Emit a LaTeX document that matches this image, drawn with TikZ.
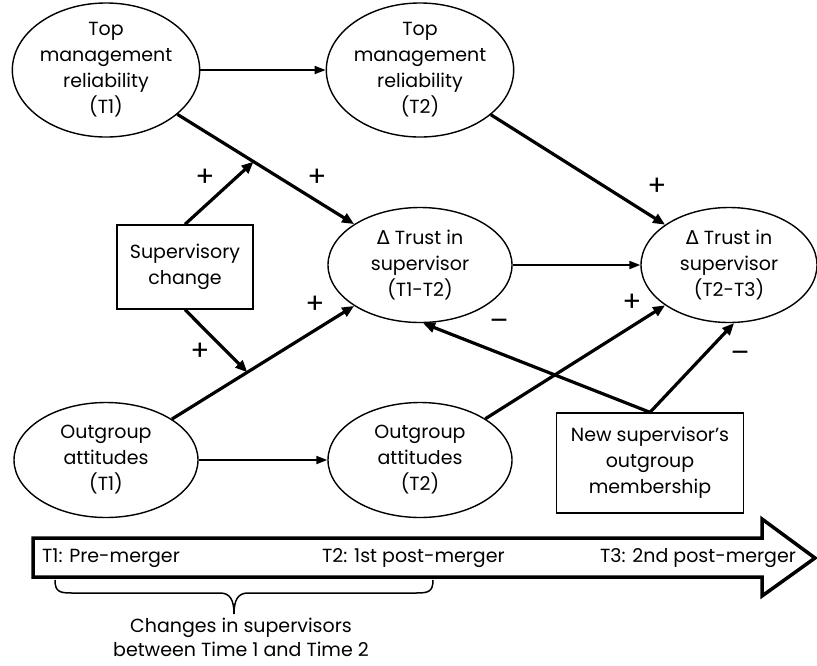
\documentclass[tikz,border=0pt]{standalone}
\usepackage{fontspec}
\setmainfont{Poppins}
\newfontfamily\grkfont{DejaVu Sans}
\usetikzlibrary{arrows.meta,shapes.geometric,calc}
\begin{document}
\begin{tikzpicture}[x=1pt,y=-1pt,
  font=\fontsize{19}{26}\selectfont,
  ell/.style={draw,line width=1.4pt,ellipse,minimum width=184pt,minimum height=115pt,inner sep=0pt,align=center},
  box/.style={draw,line width=1.4pt,rectangle,inner sep=0pt,align=center},
  thinarrow/.style={line width=1.8pt,-{Triangle[length=11pt,width=8pt]}},
  thickarrow/.style={line width=3.2pt,-{Triangle[length=12pt,width=10pt]}},
  sign/.style={font=\fontsize{28}{28}\selectfont,inner sep=0pt},
  bandtext/.style={anchor=west,inner sep=0pt}]
\useasboundingbox[fill=white] (0,0) rectangle (817,665);

\node[ell] (tm1) at (106,70) {Top\\management\\reliability\\(T1)};
\node[ell] (tm2) at (420,70) {Top\\management\\reliability\\(T2)};
\node[ell] (tr12) at (420,265) {{\grkfont Δ} Trust in\\supervisor\\(T1-T2)};
\node[ell,minimum width=176pt] (tr23) at (729,265) {{\grkfont Δ} Trust in\\supervisor\\(T2-T3)};
\node[ell] (og1) at (106,460) {Outgroup\\attitudes\\(T1)};
\node[ell] (og2) at (420,460) {Outgroup\\attitudes\\(T2)};
\node[box,minimum width=136pt,minimum height=84pt] (sc) at (185,267) {Supervisory\\change};
\node[box,minimum width=187pt,minimum height=100pt] (ns) at (650,463) {New supervisor’s\\outgroup\\membership};

\draw[thinarrow] (tm1) -- (tm2);
\draw[thinarrow] (og1) -- (og2);
\draw[thinarrow] (tr12) -- (tr23);
\draw[thickarrow] (tm1) -- (tr12);
\draw[thickarrow] (og1) -- (tr12);
\draw[thickarrow] (tm2) -- (tr23);
\draw[thickarrow] (og2) -- (tr23);
\draw[thickarrow] (ns.north) -- (tr12.-87);
\draw[thickarrow] (ns.north) -- (tr23.-85);
\coordinate (m1) at ($(tm1)!0.47!(tr12)$);
\coordinate (m2) at ($(og1)!0.45!(tr12)$);
\draw[thickarrow] (sc.north) -- (m1);
\draw[thickarrow] (sc.south) -- (m2);

\node[sign] (p1) at (205,178) {+};
\node[sign] (p2) at (317,178) {+};
\node[sign] (p3) at (315,305) {+};
\node[sign] (p4) at (200,352) {+};
\node[sign] (p5) at (657,187) {+};
\node[sign] (p6) at (632,303) {+};
\node[sign] (n1) at (499,325) {–};
\node[sign] (n2) at (740,357) {–};

\draw[line width=3.5pt,line join=miter] (33,538) -- (762,538) -- (762,519) -- (815,558) -- (762,596) -- (762,577) -- (33,577) -- cycle;
\node[bandtext] (b1) at (42,558) {T1: Pre-merger};
\node[bandtext] (b2) at (322,558) {T2: 1st post-merger};
\node[bandtext] (b3) at (600,558) {T3: 2nd post-merger};

\draw[line width=1.5pt] (55,580) .. controls (55,592) and (60,593) .. (72,593) -- (220,593)
  .. controls (230,593) and (234,600) .. (234,614)
  .. controls (234,600) and (238,593) .. (248,593) -- (416,593)
  .. controls (428,593) and (433,592) .. (433,580);
\node[align=center,inner sep=0pt,font=\fontsize{19}{24}\selectfont] (ch) at (241,637) {Changes in supervisors\\between Time 1 and Time 2};
\end{tikzpicture}
\end{document}
